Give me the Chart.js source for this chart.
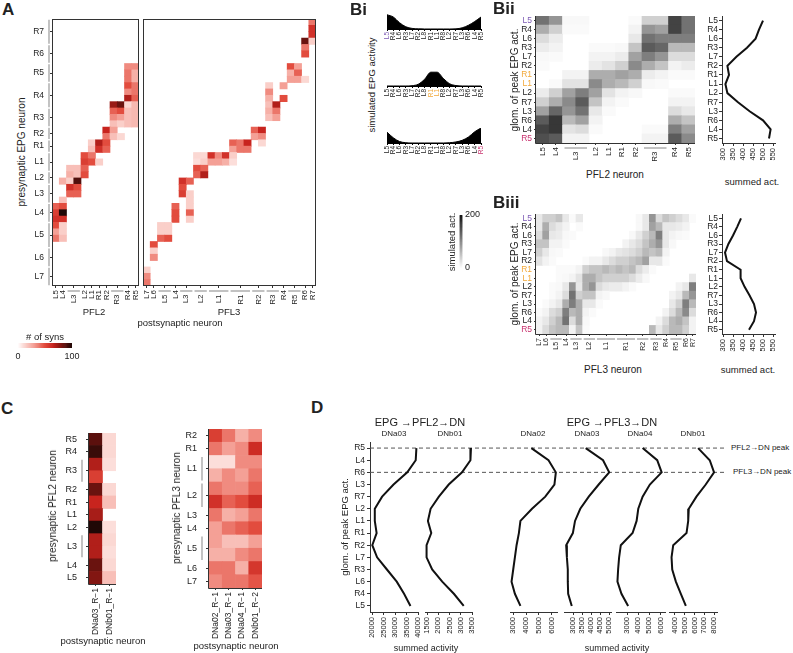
<!DOCTYPE html>
<html>
<head>
<meta charset="utf-8">
<title>EPG - PFL - DN</title>
<script src="https://cdn.jsdelivr.net/npm/chart.js@4.4.0/dist/chart.umd.min.js"></script>
<style>
  body { margin: 0; background: #fff; }
  #fig { position: relative; width: 793px; height: 653px; overflow: hidden; background: #fff;
         font-family: "Liberation Sans", Arial, Helvetica, sans-serif; color: #222; }
  #fig canvas { position: absolute; }
  .txt { position: absolute; white-space: nowrap; line-height: 1; }
</style>
</head>
<body>
<div id="fig"></div>
<script>
// ---------------- data ----------------

// panel A: EPG -> PFL2 / PFL3 synapse counts, rows top to bottom
const epgRows = [['R7',4],['R6',3],['R5',3],['R4',4],['R3',3],['R2',2],['R1',2],['L1',3],['L2',2],['L3',3],['L4',3],['L5',4],['L6',3],['L7',3]];
const pfl2Cols = [['L5',1],['L4',1],['L3',2],['L2',1],['L1',1],['R1',1],['R2',1],['R3',2],['R4',1],['R5',1]];
const pfl3Cols = [['L7',1],['L6',1],['L5',2],['L4',1],['L3',2],['L2',2],['L1',3],['R1',3],['R2',2],['R3',2],['R4',1],['R5',2],['R6',1],['R7',1]];
// [row, col, # of syns]
const pfl2Syns = [
  [7,10,35],[8,10,40],[9,10,40],[10,10,50],[11,10,35],[12,10,70],[13,10,12],[14,10,20],[15,10,20],[16,10,20],
  [7,11,35],[8,11,25],[9,11,25],[10,11,40],[11,11,40],[12,11,45],[13,11,22],[14,11,22],[15,11,22],[16,11,22],
  [13,8,75],[13,9,85],[14,8,45],[14,9,50],[15,8,35],[15,9,30],[16,8,20],[16,9,15],
  [17,7,65],[17,8,30],[18,7,40],[18,8,20],[18,9,12],
  [19,5,15],[19,6,70],[19,7,50],[20,5,20],[20,6,60],[20,7,45],
  [21,4,50],[21,5,40],[22,4,55],[22,5,50],[22,6,15],
  [23,2,20],[23,3,20],[23,4,45],[24,2,25],[24,3,20],[24,4,50],
  [25,1,25],[25,2,15],[25,3,90],[26,2,60],[26,3,50],[27,2,45],[27,3,45],[28,1,20],
  [29,0,45],[29,1,50],[30,0,55],[30,1,100],[31,0,60],[31,1,60],
  [32,0,50],[32,1,15],[33,0,30],[33,1,15],[34,0,40],[34,1,20]
];
const pfl3Syns = [
  [0,23,40],[1,23,60],[2,23,60],[3,23,15],[3,22,85],[4,22,40],[5,22,50],
  [7,20,50],[8,20,25],[9,20,30],[7,21,30],[8,21,45],[9,21,30],[9,22,12],
  [10,19,30],[12,19,50],
  [10,17,15],[11,17,35],[12,17,25],[13,17,20],[14,17,25],[15,17,20],[13,18,70],[14,18,40],[15,18,30],
  [17,15,45],[18,15,30],[17,16,65],[18,16,35],[19,16,12],
  [19,12,45],[20,12,30],[19,13,40],[20,13,40],[19,14,65],[20,14,40],
  [21,7,12],[21,8,12],[21,9,60],[21,10,35],[21,11,60],[21,12,15],
  [22,7,10],[22,8,15],[22,9,30],[22,10,30],[22,11,25],[22,12,10],
  [23,7,50],[23,8,45],[24,7,45],[24,8,70],
  [25,5,60],[25,6,45],[26,5,50],[27,5,55],[27,6,15],[28,6,15],[29,6,15],[30,6,45],[31,6,15],
  [29,4,45],[30,4,50],[31,4,50],
  [32,2,15],[32,3,15],[33,2,15],[33,3,15],[34,2,45],[34,3,50],
  [35,1,50],[36,1,15],[37,1,35],
  [39,0,15],[40,0,35],[41,0,40]
];

// panel Bi: simulated EPG bump profiles
const biBins = ['L5','R4','L6','R3','L7','R2','L8','R1','L1','R8','L2','R7','L3','R6','L4','R5'];
const bumpAtL5 = [0.95,0.8,0.42,0.15,0.04,0.01,0,0,0,0,0,0.01,0.08,0.25,0.5,0.8];
const bumpAtR1L1 = [0,0,0,0,0.02,0.12,0.45,0.92,0.92,0.5,0.15,0.03,0,0,0,0];
const bumpAtR5 = [0.72,0.35,0.1,0.02,0,0,0,0,0,0,0.02,0.07,0.18,0.4,0.75,1];

// panels Bii / Biii: simulated activity (0-200), rows = glomerulus of peak EPG activity
const peakRows = ['L5','R4','L6','R3','L7','R2','R1','L1','L2','R7','L3','R6','L4','R5'];
const pfl2Sim = [
  [120,90,6,6,0,0,0,4,40,40,160,120],
  [70,40,4,4,0,0,0,10,90,80,160,120],
  [30,16,0,0,0,0,0,20,120,110,110,110],
  [16,10,0,0,4,4,6,50,140,130,60,60],
  [6,4,0,0,10,10,16,80,110,90,30,30],
  [4,0,0,0,16,24,40,100,70,50,10,16],
  [0,0,10,10,70,70,80,70,16,10,4,4],
  [0,4,24,24,100,70,60,40,6,4,0,0],
  [16,40,80,110,80,24,10,6,0,0,4,4],
  [40,70,100,140,50,10,4,0,0,0,10,10],
  [80,130,90,120,20,4,0,0,0,0,30,20],
  [140,170,60,80,10,0,0,0,0,0,70,50],
  [160,170,24,30,4,0,0,0,4,4,110,80],
  [150,140,10,10,0,0,0,0,10,10,140,100]
];
const pfl3Sim = [
  [20,40,40,50,20,4,20,0,0,0,0,0,0,0,0,6,20,90,30,50,40,30,20,4],
  [20,70,30,20,10,0,4,0,0,0,0,0,0,0,0,6,20,80,60,20,20,16,10,0],
  [30,80,20,16,6,4,0,0,0,0,0,0,0,0,6,20,40,60,110,20,10,6,4,0],
  [50,50,10,10,4,0,0,0,0,0,0,0,0,10,20,30,50,70,90,20,6,0,0,0],
  [40,20,6,4,0,0,0,0,0,0,6,10,20,24,30,40,60,50,60,10,0,0,0,0],
  [24,10,4,0,0,0,0,4,10,10,20,30,40,40,50,60,80,20,20,4,0,0,0,0],
  [0,0,0,4,4,4,10,40,50,50,60,50,60,50,60,30,16,4,0,0,0,0,0,0],
  [0,0,0,4,6,10,24,70,70,50,40,40,40,40,30,16,6,0,0,0,0,0,0,20],
  [0,0,4,6,20,90,20,70,90,30,20,16,16,10,4,0,0,0,0,0,0,10,20,110],
  [0,0,4,10,30,120,40,50,50,10,6,0,0,0,0,0,0,0,0,0,10,20,60,90],
  [0,4,10,20,70,110,70,20,20,4,0,0,0,0,0,0,0,0,0,0,20,40,110,60],
  [4,10,30,40,110,60,70,10,4,0,0,0,0,0,0,0,0,0,0,10,30,60,100,30],
  [10,20,40,60,120,30,70,6,0,0,0,0,0,0,0,0,0,0,10,30,60,70,50,10],
  [10,30,50,60,60,10,50,4,0,0,0,0,0,0,0,0,0,60,20,40,60,60,40,10]
];
const summedTicks = [300,350,400,450,500,550];
const pfl2Summed = [500,480,463,420,367,322,330,312,322,375,433,500,538,530];
const pfl3Summed = [390,371,350,327,310,320,388,388,408,433,455,465,455,430];

// panel C: PFL -> DN synapse counts
const pfl2PreRows = [['R5',1],['R4',1],['R3',2],['R2',1],['R1',1],['L1',1],['L2',1],['L3',2],['L4',1],['L5',1]];
const pfl2DnCols = [['DNa03_R\u22121',1],['DNb01_R\u22121',1]];
const pfl2DnSyns = [[88,12],[95,12],[70,10],[55,0],[85,12],[65,20],[72,0],[100,10],[70,12],[70,10],[85,12],[80,20]];
const pfl3PreRows = [['R2',1],['R1',1],['L1',2],['L2',2],['L3',1],['L4',1],['L5',2],['L6',1],['L7',1]];
const pfl3DnCols = [['DNa02_R\u22121',1],['DNa03_R\u22121',1],['DNa04_R\u22121',1],['DNb01_R\u22122',1]];
const pfl3DnSyns = [
  [55,40,25,35],[40,30,35,62],[10,10,35,35],[25,35,30,40],[40,35,35,45],[60,45,50,62],
  [40,25,30,40],[30,40,45,50],[30,20,20,30],[25,25,35,40],[40,40,25,58],[35,40,40,48]
];

// panel D: summed DN activity per glomerulus of peak EPG activity
const dnRows = ['R5','L4','R6','L3','R7','L2','L1','R1','R2','L7','R3','L6','R4','L5'];
const pfl2DNa03 = [39300,39000,35300,29300,24300,21100,21100,21900,20000,22100,26400,30700,33900,36700];
const pfl2DNb01 = [3455,3430,3055,2460,2020,1650,1530,1680,1470,1470,1720,2170,2690,3130];
const pfl3DNa02 = [4410,5740,6310,6200,5490,4460,3560,3440,3260,3130,3000,2870,3130,3560];
const pfl3DNa03 = [3700,4660,5000,4420,3870,3400,3110,2990,2620,2660,2710,2710,2730,2930];
const pfl3DNa04 = [4390,5700,6100,5040,4390,4000,3850,3490,2430,2280,2190,2130,2490,3090];
const pfl3DNb01 = [6370,7560,8000,7150,6200,5420,5360,5190,3830,3660,3730,4100,4610,5120];

// ---------------- helpers ----------------
const fig = document.getElementById('fig');
Chart.defaults.font.family = '"Liberation Sans", Arial, Helvetica, sans-serif';
Chart.defaults.color = '#222';

const PURPLE = '#7d5bb5', ORANGE = '#f2a93b', MAGENTA = '#c8326e';

const heatStops = [[0,[255,255,255]],[0.1,[252,222,218]],[0.3,[244,160,150]],[0.5,[226,76,62]],[0.65,[200,36,30]],[0.8,[130,22,18]],[1,[32,8,6]]];
function heat(v) {
  if (v <= 0) return 'rgba(255,255,255,0)';
  const t = Math.min(v / 100, 1);
  for (let i = 1; i < heatStops.length; i++) {
    if (t <= heatStops[i][0]) {
      const [t0, c0] = heatStops[i - 1], [t1, c1] = heatStops[i];
      const f = (t - t0) / (t1 - t0);
      return 'rgb(' + c0.map((c, k) => Math.round(c + (c1[k] - c) * f)).join(',') + ')';
    }
  }
  return 'rgb(32,8,6)';
}
function grey(v) {
  if (v <= 0) return 'rgba(255,255,255,0)';
  const g = Math.round(255 - 235 * Math.min(v / 200, 1));
  return `rgb(${g},${g},${g})`;
}

function groupsOf(list) {
  let s = 0;
  return list.map(([label, n]) => { const g = {label, n, start: s, mid: s + n / 2}; s += n; return g; });
}
const sizeOf = gs => gs.reduce((t, g) => t + g.n, 0);
function fromCells(nR, nC, list) {
  const m = Array.from({length: nR}, () => new Array(nC).fill(0));
  list.forEach(([r, c, v]) => { m[r][c] = v; });
  return m;
}

// force an axis to a fixed thickness so plot areas land where they should
function fit(size) {
  return s => {
    if (s.isHorizontal()) s.height = size; else s.width = size;
    s.paddingLeft = s.paddingRight = s.paddingTop = s.paddingBottom = 0;
  };
}
function hiddenAxis(size, more) {
  return Object.assign({display: true, afterFit: fit(size), border: {display: false},
    grid: {display: false, drawTicks: false}, ticks: {display: false}}, more);
}
function baseOpts(extra) {
  return Object.assign({
    responsive: false, animation: false, events: [],
    plugins: {legend: {display: false}, tooltip: {enabled: false}}
  }, extra);
}
// box = plot area [x0,y0,x1,y1], m = [left axis, top, right, bottom axis]
function makeCanvas(box, m) {
  const c = document.createElement('canvas');
  const w = box[2] - box[0] + m[0] + m[2], h = box[3] - box[1] + m[1] + m[3];
  c.width = w; c.height = h;
  c.style.left = (box[0] - m[0]) + 'px'; c.style.top = (box[1] - m[1]) + 'px';
  c.style.width = w + 'px'; c.style.height = h + 'px';
  fig.appendChild(c);
  return c;
}
function txt(s, x, y, o) {
  o = o || {};
  const d = document.createElement('div');
  d.className = 'txt';
  d.textContent = s;
  d.style.left = x + 'px'; d.style.top = y + 'px';
  d.style.fontSize = (o.size || 9.5) + 'px';
  if (o.bold) d.style.fontWeight = 'bold';
  if (o.color) d.style.color = o.color;
  let t = o.tl ? '' : (o.left ? 'translate(0,-50%)' : 'translate(-50%,-50%)');
  if (o.rot) t += ' rotate(-90deg)';
  d.style.transform = t;
  fig.appendChild(d);
}

// frame, axis lines and grey group bars
function deco(o) {
  return {
    id: 'deco',
    afterDatasetsDraw(chart) {
      const ctx = chart.ctx, a = chart.chartArea;
      ctx.save();
      ctx.strokeStyle = '#333';
      ctx.lineWidth = 1;
      if (o.frame) {
        ctx.strokeRect(Math.round(a.left) + 0.5, Math.round(a.top) + 0.5,
          Math.round(a.right - a.left) - 1, Math.round(a.bottom - a.top) - 1);
      }
      if (o.axes) {
        ctx.beginPath();
        ctx.moveTo(Math.round(a.left) - 0.5, a.top);
        ctx.lineTo(Math.round(a.left) - 0.5, Math.round(a.bottom) + 0.5);
        ctx.lineTo(a.right, Math.round(a.bottom) + 0.5);
        ctx.stroke();
      }
      ctx.strokeStyle = '#9a9a9a';
      ctx.lineWidth = 1.2;
      if (o.xg) {
        const sx = chart.scales.x, y = a.bottom + o.xgap;
        o.xg.forEach(g => {
          if (g.n < 2) return;
          ctx.beginPath();
          ctx.moveTo(sx.getPixelForValue(g.start + 0.15), y);
          ctx.lineTo(sx.getPixelForValue(g.start + g.n - 0.15), y);
          ctx.stroke();
        });
      }
      if (o.yg) {
        const sy = chart.scales.y, x = a.left - o.ygap;
        o.yg.forEach(g => {
          if (g.n < 2) return;
          ctx.beginPath();
          ctx.moveTo(x, sy.getPixelForValue(o.nR - g.start - 0.12));
          ctx.lineTo(x, sy.getPixelForValue(o.nR - g.start - g.n + 0.12));
          ctx.stroke();
        });
      }
      ctx.restore();
    }
  };
}

// heatmap = one floating-bar dataset, one bar per cell
function heatmap(p) {
  const rg = groupsOf(p.rows), cg = groupsOf(p.cols);
  const nR = sizeOf(rg), nC = sizeOf(cg);
  const cells = [], colors = [];
  for (let r = 0; r < nR; r++) {
    for (let c = 0; c < nC; c++) {
      cells.push({x: c + 0.5, y: [nR - r - 1, nR - r]});
      colors.push(p.color(p.values[r][c]));
    }
  }
  const showY = p.showY !== false;
  const yAxis = showY ? {
      type: 'linear', min: 0, max: nR, afterFit: fit(p.m[0]),
      afterBuildTicks: ax => { ax.ticks = rg.map(g => ({value: nR - g.mid})); },
      border: {display: false},
      grid: {drawOnChartArea: false, tickLength: p.yTick || 2, color: '#333'},
      ticks: {autoSkip: false, padding: p.yPad || 3, font: {size: p.font},
              color: c => (p.rowColor ? p.rowColor(rg[c.index].label) : '#222'),
              callback: (v, i) => rg[i].label}
    } : hiddenAxis(p.m[0], {type: 'linear', min: 0, max: nR});
  new Chart(makeCanvas(p.box, p.m), {
    type: 'bar',
    data: {datasets: [{data: cells, backgroundColor: colors, borderWidth: 0, barPercentage: 1, categoryPercentage: 1}]},
    options: baseOpts({
      layout: {padding: {left: 0, top: p.m[1], right: p.m[2], bottom: 0}},
      scales: {
        x: {type: 'linear', min: 0, max: nC, offset: false, afterFit: fit(p.m[3]),
            afterBuildTicks: ax => { ax.ticks = cg.map(g => ({value: g.mid})); },
            border: {display: false},
            grid: {offset: false, drawOnChartArea: false, tickLength: 2, color: '#333'},
            ticks: {autoSkip: false, minRotation: 90, maxRotation: 90, padding: 2, font: {size: p.xFont || p.font},
                    callback: (v, i) => (cg[i].n > 1 && p.xBars !== false) ? cg[i].label + '  ' : cg[i].label}},
        y: yAxis
      }
    }),
    plugins: [deco({frame: p.frame, axes: p.axes, xg: p.xBars === false ? null : cg, xgap: 5,
                    yg: showY && p.yBars ? rg : null, ygap: p.yGap || 4, nR: nR})]
  });
}

// Bi: filled bump profile
function profile(box, values, hot, hotColor) {
  new Chart(makeCanvas(box, [4, 2, 6, 16]), {
    type: 'line',
    data: {labels: biBins, datasets: [{data: values, fill: 'origin', backgroundColor: '#000', borderColor: '#000',
           borderWidth: 1, pointRadius: 0, cubicInterpolationMode: 'monotone'}]},
    options: baseOpts({
      layout: {padding: {left: 0, top: 2, right: 6, bottom: 0}},
      scales: {
        x: {type: 'category', offset: false, afterFit: fit(16),
            border: {color: '#000', width: 1},
            grid: {drawOnChartArea: false, tickLength: 2, color: '#000'},
            ticks: {autoSkip: false, minRotation: 90, maxRotation: 90, padding: 1, font: {size: 6.5},
                    color: c => hot.includes(biBins[c.index]) ? hotColor : '#222'}},
        y: hiddenAxis(4, {min: 0, max: 1})
      }
    })
  });
}

// Bii/Biii summed activity line (vertical)
function summedLine(box, values) {
  new Chart(makeCanvas(box, [22, 4, 8, 24]), {
    type: 'line',
    data: {labels: peakRows, datasets: [{data: values, borderColor: '#111', borderWidth: 2, pointRadius: 0, tension: 0}]},
    options: baseOpts({
      indexAxis: 'y',
      layout: {padding: {left: 0, top: 4, right: 8, bottom: 0}},
      scales: {
        y: {type: 'category', offset: true, afterFit: fit(22),
            border: {color: '#333'}, grid: {drawOnChartArea: false, tickLength: 3, color: '#333'},
            ticks: {autoSkip: false, padding: 1, font: {size: 8.5}}},
        x: {type: 'linear', min: 295, max: 560, afterFit: fit(24),
            afterBuildTicks: ax => { ax.ticks = summedTicks.map(v => ({value: v})); },
            border: {color: '#333'}, grid: {drawOnChartArea: false, tickLength: 3, color: '#333'},
            ticks: {autoSkip: false, minRotation: 90, maxRotation: 90, padding: 2, font: {size: 7.5},
                    callback: v => String(v)}}
      }
    })
  });
}

// D: one DN trace
function dnLine(box, values, min, max, tks) {
  new Chart(makeCanvas(box, [6, 2, 6, 32]), {
    type: 'line',
    data: {labels: dnRows, datasets: [{data: values, borderColor: '#111', borderWidth: 2, pointRadius: 0, tension: 0}]},
    options: baseOpts({
      indexAxis: 'y',
      layout: {padding: {left: 0, top: 2, right: 6, bottom: 0}},
      scales: {
        y: hiddenAxis(6, {type: 'category', offset: true}),
        x: {type: 'linear', min: min, max: max, afterFit: fit(32),
            afterBuildTicks: ax => { ax.ticks = tks.map(v => ({value: v})); },
            border: {color: '#333'}, grid: {drawOnChartArea: false, tickLength: 3, color: '#333'},
            ticks: {autoSkip: false, minRotation: 90, maxRotation: 90, padding: 2, font: {size: 7.5},
                    callback: v => String(v)}}
      }
    })
  });
}

const peakColor = lab => lab === 'L5' ? PURPLE : (lab === 'R1' || lab === 'L1') ? ORANGE : lab === 'R5' ? MAGENTA : '#222';

// ---------------- panel A ----------------
heatmap({box: [52, 19, 139, 286], m: [24, 6, 2, 24], rows: epgRows, cols: pfl2Cols,
         values: fromCells(42, 12, pfl2Syns), color: heat, font: 8.5, xFont: 8,
         frame: true, yBars: true, yTick: 2, yPad: 6, yGap: 3});
heatmap({box: [143, 19, 316, 286], m: [2, 6, 4, 24], rows: epgRows, cols: pfl3Cols,
         values: fromCells(42, 24, pfl3Syns), color: heat, font: 8.5, xFont: 8,
         frame: true, showY: false});

// colour key for A
(function () {
  const cells = [], cols = [];
  for (let v = 0; v < 100; v += 2) { cells.push({x: v + 1, y: [0, 1]}); cols.push(heat(v + 1)); }
  new Chart(makeCanvas([18, 343, 72, 348], [8, 2, 12, 14]), {
    type: 'bar',
    data: {datasets: [{data: cells, backgroundColor: cols, borderWidth: 0, barPercentage: 1, categoryPercentage: 1}]},
    options: baseOpts({
      layout: {padding: {left: 0, top: 2, right: 12, bottom: 0}},
      scales: {
        x: {type: 'linear', min: 0, max: 100, offset: false, afterFit: fit(14),
            afterBuildTicks: ax => { ax.ticks = [{value: 0}, {value: 100}]; },
            border: {display: false}, grid: {display: false, drawTicks: false},
            ticks: {padding: 3, maxRotation: 0, font: {size: 9}}},
        y: hiddenAxis(8, {type: 'linear', min: 0, max: 1})
      }
    })
  });
})();

// ---------------- panel B ----------------
profile([387, 14, 481, 29], bumpAtL5, ['L5'], PURPLE);
profile([387, 71, 481, 86], bumpAtR1L1, ['R1', 'L1'], ORANGE);
profile([387, 128, 481, 143], bumpAtR5, ['R5'], MAGENTA);

// grey key
(function () {
  const cells = [], cols = [];
  for (let v = 0; v < 200; v += 4) { cells.push({x: 0.5, y: [v, v + 4]}); cols.push(grey(v + 2)); }
  new Chart(makeCanvas([459, 215, 463, 268], [2, 6, 24, 6]), {
    type: 'bar',
    data: {datasets: [{data: cells, backgroundColor: cols, borderWidth: 0, barPercentage: 1, categoryPercentage: 1}]},
    options: baseOpts({
      layout: {padding: {left: 2, top: 6, right: 2, bottom: 6}},
      scales: {
        x: hiddenAxis(0, {type: 'linear', min: 0, max: 1,
            afterBuildTicks: ax => { ax.ticks = [{value: 0}, {value: 1}]; }}),
        y: {type: 'linear', position: 'right', min: 0, max: 200, afterFit: fit(22),
            afterBuildTicks: ax => { ax.ticks = [{value: 0}, {value: 200}]; },
            border: {display: false}, grid: {display: false, drawTicks: false},
            ticks: {padding: 2, font: {size: 9}}}
      }
    })
  });
})();

heatmap({box: [536, 16, 695, 143], m: [24, 4, 2, 26], rows: peakRows.map(r => [r, 1]), cols: pfl2Cols,
         values: pfl2Sim, color: grey, font: 8.5, xFont: 8, axes: true, rowColor: peakColor, yTick: 2, yPad: 2});
summedLine([722, 16, 775, 143], pfl2Summed);

heatmap({box: [536, 214, 696, 334], m: [24, 4, 2, 26], rows: peakRows.map(r => [r, 1]), cols: pfl3Cols,
         values: pfl3Sim, color: grey, font: 8.5, xFont: 7, axes: true, rowColor: peakColor, yTick: 2, yPad: 2});
summedLine([722, 214, 775, 334], pfl3Summed);

// ---------------- panel C ----------------
heatmap({box: [89, 433, 116, 584], m: [34, 4, 4, 52], rows: pfl2PreRows, cols: pfl2DnCols,
         values: pfl2DnSyns, color: heat, font: 9, xFont: 8.5, axes: true, yBars: true,
         yTick: 3, yPad: 9, yGap: 7, xBars: false});
heatmap({box: [209, 429, 262, 588], m: [34, 4, 4, 52], rows: pfl3PreRows, cols: pfl3DnCols,
         values: pfl3DnSyns, color: heat, font: 9, xFont: 8.5, axes: true, yBars: true,
         yTick: 3, yPad: 9, yGap: 7, xBars: false});

// ---------------- panel D ----------------
// shared glomerulus axis + peak reference lines
new Chart(makeCanvas([370, 442, 727, 612], [28, 2, 2, 2]), {
  type: 'scatter',
  data: {datasets: [
    {data: [{x: 0, y: 'R5'}, {x: 1, y: 'R5'}], showLine: true, borderColor: '#555', borderDash: [4, 3], borderWidth: 1, pointRadius: 0},
    {data: [{x: 0, y: 'R6'}, {x: 1, y: 'R6'}], showLine: true, borderColor: '#555', borderDash: [4, 3], borderWidth: 1, pointRadius: 0}
  ]},
  options: baseOpts({
    layout: {padding: {left: 0, top: 2, right: 2, bottom: 0}},
    scales: {
      x: hiddenAxis(2, {type: 'linear', min: 0, max: 1}),
      y: {type: 'category', labels: dnRows, offset: true, afterFit: fit(28),
          border: {color: '#333'}, grid: {drawOnChartArea: false, tickLength: 3, color: '#333'},
          ticks: {autoSkip: false, padding: 2, font: {size: 8.5}}}
    }
  })
});
dnLine([370, 442, 418, 612], pfl2DNa03, 19000, 40000, [20000, 25000, 30000, 35000, 40000]);
dnLine([425, 442, 472, 612], pfl2DNb01, 1400, 3500, [1500, 2000, 2500, 3000, 3500]);
dnLine([510, 442, 557, 612], pfl3DNa02, 2750, 6400, [3000, 4000, 5000, 6000]);
dnLine([564, 442, 611, 612], pfl3DNa03, 2500, 5100, [3000, 3500, 4000, 4500, 5000]);
dnLine([616, 442, 665, 612], pfl3DNa04, 2000, 6400, [3000, 4000, 5000, 6000]);
dnLine([669, 442, 717, 612], pfl3DNb01, 3400, 8300, [4000, 5000, 6000, 7000, 8000]);

// ---------------- text ----------------
txt('A', 2, 1, {tl: true, bold: true, size: 17});
txt('Bi', 350, 1, {tl: true, bold: true, size: 17});
txt('Bii', 493, 0, {tl: true, bold: true, size: 17});
txt('Biii', 493, 194, {tl: true, bold: true, size: 17});
txt('C', 1, 400, {tl: true, bold: true, size: 17});
txt('D', 311, 399, {tl: true, bold: true, size: 17});

txt('presynaptic EPG neuron', 22, 152, {rot: true, size: 10});
txt('PFL2', 94, 312, {size: 9.5});
txt('PFL3', 229, 312, {size: 9.5});
txt('postsynaptic neuron', 180, 323, {size: 9.5});
txt('# of syns', 45, 337, {size: 9.5});

txt('simulated EPG activity', 372, 85, {rot: true, size: 9.5});
txt('simulated act.', 452, 242, {rot: true, size: 9.5});
txt('glom. of peak EPG act.', 515, 80, {rot: true, size: 10});
txt('glom. of peak EPG act.', 515, 274, {rot: true, size: 10});
txt('PFL2 neuron', 615, 175, {size: 10});
txt('summed act.', 752, 182, {size: 9.5});
txt('PFL3 neuron', 613, 370, {size: 10});
txt('summed act.', 748, 370, {size: 9.5});

txt('presynaptic PFL2 neuron', 53, 506, {rot: true, size: 10});
txt('postsynaptic neuron', 103, 641, {size: 9.5});
txt('presynaptic PFL3 neuron', 177, 508, {rot: true, size: 10});
txt('postsynaptic neuron', 236, 646, {size: 9.5});

txt('EPG \u2192PFL2\u2192DN', 420, 422, {size: 11});
txt('EPG \u2192PFL3\u2192DN', 612, 422, {size: 11});
txt('DNa03', 394, 434, {size: 8});
txt('DNb01', 450, 434, {size: 8});
txt('DNa02', 533, 434, {size: 8});
txt('DNa03', 587, 434, {size: 8});
txt('DNa04', 640, 434, {size: 8});
txt('DNb01', 693, 434, {size: 8});
txt('glom. of peak EPG act.', 345, 527, {rot: true, size: 9.5});
txt('summed activity', 426, 648, {size: 9});
txt('summed activity', 617, 648, {size: 9});
txt('PFL2\u2192DN peak', 731, 448, {left: true, size: 8});
txt('PFL3\u2192DN peak', 733, 472, {left: true, size: 8});
</script>
</body>
</html>
